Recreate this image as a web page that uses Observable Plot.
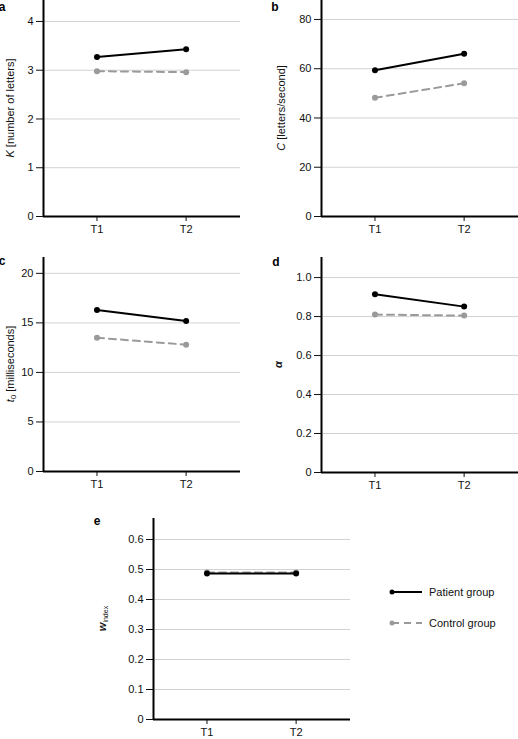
<!DOCTYPE html>
<html>
<head>
<meta charset="utf-8">
<script src="https://cdn.jsdelivr.net/npm/d3@7"></script>
<script src="https://cdn.jsdelivr.net/npm/@observablehq/plot@0.6"></script>
<style>
  html, body { margin: 0; padding: 0; background: white; }
  #wrap { position: relative; width: 518px; height: 739px; overflow: hidden; font-family: "Liberation Sans", Arial, sans-serif; }
  .panel { position: absolute; }
</style>
</head>
<body>
<div id="wrap"></div>
<script>
// ---- data ----
const times = ["T1", "T2"];
const groups = ["Patient group", "Control group"];

const patientK = [3.27, 3.43];
const controlK = [2.98, 2.96];

const patientC = [59.4, 66.1];
const controlC = [48.2, 54.1];

const patientT0 = [16.3, 15.2];
const controlT0 = [13.5, 12.8];

const patientAlpha = [0.914, 0.851];
const controlAlpha = [0.81, 0.805];

const patientW = [0.487, 0.487];
const controlW = [0.490, 0.490];

const ticksK = [0, 1, 2, 3, 4];
const ticksC = [0, 20, 40, 60, 80];
const ticksT0 = [0, 5, 10, 15, 20];
const ticksAlpha = [0, 0.2, 0.4, 0.6, 0.8, 1.0];
const ticksW = [0, 0.1, 0.2, 0.3, 0.4, 0.5, 0.6];

const wrap = document.getElementById("wrap");
const FONT = "Liberation Sans, Arial, Helvetica, sans-serif";
const toRows = (vals) => vals.map((v, i) => ({x: i + 1, v}));

function panel(o) {
  const patient = toRows(o.patient);
  const control = toRows(o.control);
  const tf = o.fmt || (d => String(d));
  const svg = Plot.plot({
    width: o.width, height: o.height,
    marginLeft: o.ml, marginRight: 0, marginTop: o.mt, marginBottom: o.mb,
    style: {fontFamily: FONT, fontSize: "11px", color: "#111", background: "white", overflow: "visible"},
    x: {domain: [0.4, 2.61], axis: null},
    y: {domain: o.domain, axis: null},
    marks: [
      Plot.gridY(o.ticks.filter(d => d > 0), {stroke: "#d2d2d2", strokeOpacity: 1, strokeWidth: 1}),
      Plot.axisY(o.ticks, {tickSize: 7, tickPadding: 3, tickFormat: tf, label: null, fontSize: 11}),
      Plot.axisX([1, 2], {tickSize: 5, tickPadding: 4, tickFormat: d => times[d - 1], label: null, fontSize: 11}),
      Plot.ruleX([0.4], {stroke: "#000", strokeWidth: 2}),
      Plot.ruleY([0], {stroke: "#000", strokeWidth: 2}),
      Plot.line(control, {x: "x", y: "v", stroke: "#9a9a9a", strokeWidth: 2, strokeDasharray: "7,5"}),
      Plot.dot(control, {x: "x", y: "v", fill: "#9a9a9a", r: 3}),
      Plot.line(patient, {x: "x", y: "v", stroke: "#000", strokeWidth: 2}),
      Plot.dot(patient, {x: "x", y: "v", fill: "#000", r: 3})
    ]
  });
  const div = document.createElement("div");
  div.className = "panel";
  div.style.left = o.left + "px";
  div.style.top = o.top + "px";
  div.appendChild(svg);
  wrap.appendChild(div);

  const s = d3.select(svg);
  // panel letter
  s.append("text").attr("x", o.letterX).attr("y", o.letterY)
    .attr("font-family", FONT).attr("font-size", 12).attr("font-weight", "bold")
    .attr("fill", "#000").text(o.letter);
  // y label
  const cy = (o.mt + (o.height - o.mb)) / 2;
  const t = s.append("text")
    .attr("transform", `translate(${o.labelX},${cy}) rotate(-90)`)
    .attr("text-anchor", "middle").attr("dy", "0.35em")
    .attr("font-family", FONT).attr("font-size", 11).attr("fill", "#111");
  o.label(t);
}

// a
panel({
  left: 0, top: 0, width: 240, height: 245, ml: 43, mt: 0, mb: 29,
  domain: [0, 4.43], ticks: ticksK, patient: patientK, control: controlK,
  letter: "a", letterX: 2, letterY: 11, labelX: 10,
  label: t => { t.append("tspan").attr("font-style", "italic").text("K"); t.append("tspan").text(" [number of letters]"); }
});
// b
panel({
  left: 258, top: 0, width: 260, height: 245, ml: 63, mt: 0, mb: 29,
  domain: [0, 87.7], ticks: ticksC, patient: patientC, control: controlC,
  letter: "b", letterX: 17, letterY: 11, labelX: 23,
  label: t => { t.append("tspan").attr("font-style", "italic").text("C"); t.append("tspan").text(" [letters/second]"); }
});
// c
panel({
  left: 0, top: 250, width: 240, height: 250, ml: 43, mt: 7, mb: 29,
  domain: [0, 21.6], ticks: ticksT0, patient: patientT0, control: controlT0,
  letter: "c", letterX: 2, letterY: 15, labelX: 10,
  label: t => {
    t.append("tspan").attr("font-style", "italic").text("t");
    t.append("tspan").attr("font-size", 8).attr("dy", "0.3em").text("0");
    t.append("tspan").attr("dy", "-0.25em").text(" [milliseconds]");
  }
});
// d
panel({
  left: 258, top: 250, width: 260, height: 251, ml: 63, mt: 7, mb: 29,
  domain: [0, 1.103], ticks: ticksAlpha, patient: patientAlpha, control: controlAlpha,
  fmt: d => d === 0 ? "0" : d.toFixed(1),
  letter: "d", letterX: 18, letterY: 16, labelX: 20,
  label: t => { t.append("tspan").attr("font-style", "italic").attr("font-weight", "bold").text("α"); }
});
// e
panel({
  left: 80, top: 495, width: 270, height: 244, ml: 73, mt: 23, mb: 20,
  domain: [0, 0.67], ticks: ticksW, patient: patientW, control: controlW,
  fmt: d => d === 0 ? "0" : d.toFixed(1),
  letter: "e", letterX: 17, letterY: 30, labelX: 22,
  label: t => {
    t.append("tspan").attr("font-style", "italic").attr("font-weight", "bold").text("w");
    t.append("tspan").attr("font-size", 7).attr("dy", "0.35em").text("index");
  }
});

// legend
const leg = d3.select(wrap).append("svg")
  .attr("width", 140).attr("height", 60)
  .style("position", "absolute").style("left", "385px").style("top", "577px");
const styles = [
  {stroke: "#000", dash: null},
  {stroke: "#9a9a9a", dash: "7,5"}
];
groups.forEach((g, i) => {
  const y = 15 + i * 31;
  leg.append("line").attr("x1", 7).attr("x2", 37).attr("y1", y).attr("y2", y)
    .attr("stroke", styles[i].stroke).attr("stroke-width", 2)
    .attr("stroke-dasharray", styles[i].dash);
  leg.append("circle").attr("cx", 7).attr("cy", y).attr("r", 2.5).attr("fill", styles[i].stroke);
  leg.append("text").attr("x", 44).attr("y", y).attr("dy", "0.35em")
    .attr("font-family", FONT).attr("font-size", 11).attr("fill", "#111").text(g);
});
</script>
</body>
</html>
